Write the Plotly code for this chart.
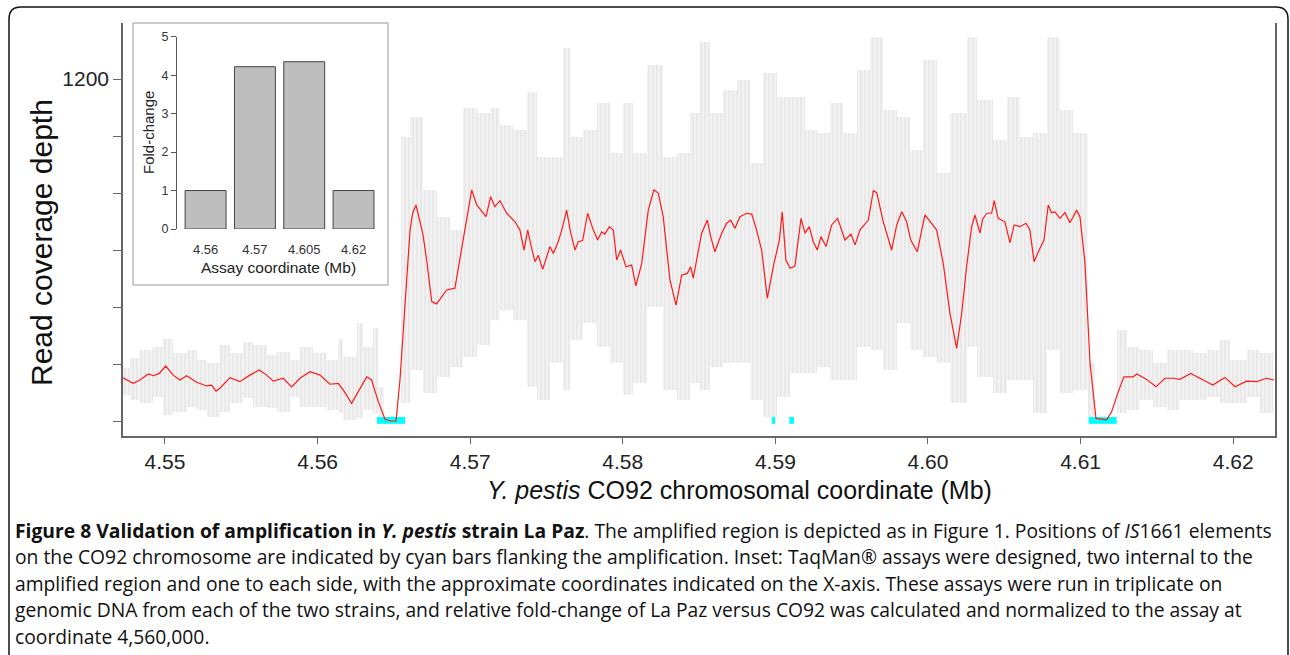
import plotly.graph_objects as go

# smoothed read depth (red line): genome position (Mb) and depth
red_x = [4.54725, 4.54792, 4.54836, 4.54891, 4.54923, 4.54963, 4.55005, 4.55054, 4.55098, 4.55142,
         4.55208, 4.55273, 4.55306, 4.55334, 4.55360, 4.55426, 4.55491, 4.55557, 4.55618, 4.55666,
         4.55710, 4.55775, 4.55830, 4.55885, 4.55950, 4.56016, 4.56081, 4.56136, 4.56168, 4.56223,
         4.56260, 4.56322, 4.56354, 4.56398, 4.56442, 4.56480, 4.56514, 4.56540, 4.56606, 4.56623,
         4.56645, 4.56689, 4.56715, 4.56748, 4.56780, 4.56846, 4.56900, 4.56944, 4.57010, 4.57043,
         4.57104, 4.57134, 4.57162, 4.57195, 4.57239, 4.57294, 4.57326, 4.57353, 4.57377, 4.57403,
         4.57425, 4.57446, 4.57475, 4.57523, 4.57545, 4.57577, 4.57600, 4.57632, 4.57659, 4.57687,
         4.57708, 4.57737, 4.57770, 4.57803, 4.57835, 4.57862, 4.57883, 4.57912, 4.57938, 4.57960,
         4.57986, 4.58021, 4.58058, 4.58086, 4.58124, 4.58167, 4.58204, 4.58233, 4.58265, 4.58309,
         4.58349, 4.58386, 4.58423, 4.58445, 4.58462, 4.58484, 4.58517, 4.58554, 4.58576, 4.58604,
         4.58648, 4.58681, 4.58707, 4.58735, 4.58768, 4.58812, 4.58845, 4.58877, 4.58910, 4.58947,
         4.58991, 4.59026, 4.59045, 4.59069, 4.59096, 4.59128, 4.59168, 4.59194, 4.59222, 4.59248,
         4.59275, 4.59299, 4.59332, 4.59369, 4.59408, 4.59456, 4.59495, 4.59522, 4.59554, 4.59609,
         4.59642, 4.59664, 4.59707, 4.59762, 4.59795, 4.59828, 4.59860, 4.59887, 4.59930, 4.59980,
         4.60013, 4.60057, 4.60100, 4.60144, 4.60188, 4.60221, 4.60253, 4.60286, 4.60308, 4.60341,
         4.60358, 4.60385, 4.60417, 4.60434, 4.60460, 4.60504, 4.60537, 4.60565, 4.60603, 4.60642,
         4.60668, 4.60695, 4.60734, 4.60760, 4.60788, 4.60810, 4.60832, 4.60865, 4.60898, 4.60930,
         4.60952, 4.60974, 4.60996, 4.61029, 4.61062, 4.61101, 4.61171, 4.61204, 4.61247, 4.61284,
         4.61345, 4.61368, 4.61433, 4.61494, 4.61553, 4.61607, 4.61651, 4.61722, 4.61782, 4.61866,
         4.61946, 4.62012, 4.62088, 4.62154, 4.62219, 4.62267]
red_y = [152, 132, 144, 165, 159, 167, 193, 161, 144, 159,
         136, 123, 126, 105, 115, 152, 138, 161, 179, 161,
         140, 150, 120, 150, 173, 161, 129, 132, 109, 62,
         97, 155, 144, 68, 6, 0, 0, 144, 670, 729,
         758, 659, 565, 419, 411, 460, 466, 600, 811, 758,
         717, 787, 752, 773, 729, 699, 670, 600, 670, 606,
         559, 582, 532, 612, 588, 629, 670, 740, 659, 600,
         629, 633, 729, 676, 635, 664, 656, 682, 670, 565,
         600, 541, 547, 474, 553, 740, 811, 799, 717, 495,
         407, 512, 518, 541, 501, 565, 659, 705, 647, 594,
         659, 694, 705, 676, 717, 729, 726, 670, 600, 431,
         553, 635, 734, 565, 536, 544, 711, 659, 682, 629,
         600, 647, 612, 688, 711, 635, 656, 618, 670, 705,
         808, 801, 699, 600, 688, 734, 699, 635, 594, 723,
         699, 670, 553, 378, 255, 378, 541, 682, 723, 659,
         708, 729, 729, 773, 711, 699, 626, 688, 682, 694,
         670, 559, 606, 635, 758, 731, 734, 711, 731, 696,
         717, 740, 717, 553, 202, 9, 4, 33, 103, 155,
         155, 165, 146, 120, 150, 150, 146, 167, 150, 126,
         153, 120, 140, 138, 150, 144]

# raw per-position depth (light grey cloud): column start/end (Mb), min and max depth
gray_start = [4.54725, 4.54771, 4.54836, 4.54921, 4.54987, 4.55052, 4.55144, 4.55210, 4.55275, 4.55360,
              4.55426, 4.55511, 4.55577, 4.55668, 4.55734, 4.55819, 4.55885, 4.55970, 4.56062, 4.56134,
              4.56166, 4.56258, 4.56298, 4.56363, 4.56396,
              4.56547, 4.56606, 4.56691, 4.56782, 4.56868, 4.56953, 4.57045, 4.57130, 4.57195, 4.57280,
              4.57372, 4.57438, 4.57523, 4.57608, 4.57654, 4.57739, 4.57831, 4.57916, 4.58001, 4.58067,
              4.58159, 4.58263, 4.58355, 4.58440, 4.58506, 4.58571, 4.58657, 4.58748, 4.58834, 4.58919,
              4.59010, 4.59096, 4.59194, 4.59273, 4.59358, 4.59443, 4.59535, 4.59620, 4.59705, 4.59797,
              4.59882, 4.59967, 4.60059, 4.60144, 4.60256, 4.60321, 4.60426, 4.60518, 4.60603, 4.60688,
              4.60780, 4.60865, 4.60950, 4.61048,
              4.61239, 4.61304, 4.61389, 4.61474, 4.61566, 4.61651, 4.61736, 4.61828, 4.61913, 4.61978,
              4.62090, 4.62175]
gray_end = [4.54771, 4.54836, 4.54921, 4.54987, 4.55052, 4.55144, 4.55210, 4.55275, 4.55360, 4.55426,
            4.55511, 4.55577, 4.55668, 4.55734, 4.55819, 4.55885, 4.55970, 4.56062, 4.56134, 4.56166,
            4.56258, 4.56298, 4.56363, 4.56396, 4.56435,
            4.56606, 4.56691, 4.56782, 4.56868, 4.56953, 4.57045, 4.57130, 4.57195, 4.57280, 4.57372,
            4.57438, 4.57523, 4.57608, 4.57654, 4.57739, 4.57831, 4.57916, 4.58001, 4.58067, 4.58159,
            4.58263, 4.58355, 4.58440, 4.58506, 4.58571, 4.58657, 4.58748, 4.58834, 4.58919, 4.59010,
            4.59096, 4.59194, 4.59273, 4.59358, 4.59443, 4.59535, 4.59620, 4.59705, 4.59797, 4.59882,
            4.59967, 4.60059, 4.60144, 4.60256, 4.60321, 4.60426, 4.60518, 4.60603, 4.60688, 4.60780,
            4.60865, 4.60950, 4.61048, 4.61094,
            4.61304, 4.61389, 4.61474, 4.61566, 4.61651, 4.61736, 4.61828, 4.61913, 4.61978, 4.62090,
            4.62175, 4.62261]
gray_lo = [91, 74, 63, 84, 21, 32, 49, 39, 14, 32,
           63, 81, 49, 46, 32, 84, 49, 49, 39, 28,
           4, 11, 39, 28, 14,
           63, 179, 98, 154, 189, 225, 267, 354, 389, 354,
           119, 74, 204, 109, 284, 344, 260, 204, 91, 133,
           400, 109, 74, 133, 109, 189, 204, 204, 74, 14,
           84, 168, 168, 189, 144, 144, 260, 249, 179, 344,
           249, 225, 204, 63, 260, 154, 98, 144, 144, 28,
           249, 98, 109, 14,
           28, 39, 74, 49, 39, 74, 74, 84, 63, 63,
           84, 28]
gray_hi = [186, 221, 249, 260, 288, 239, 249, 214, 204, 267,
           239, 277, 267, 232, 242, 214, 260, 239, 214, 288,
           225, 344, 260, 326, 119,
           997, 1067, 811, 716, 670, 1098, 1081, 1098, 1039, 1021,
           1154, 926, 926, 1309, 997, 1021, 1116, 940, 1116, 940,
           1249, 926, 940, 1081, 1330, 1081, 1161, 1197, 905, 1221,
           1137, 1137, 1021, 1011, 1116, 1011, 1232, 1347, 1091, 1067,
           951, 1267, 870, 1081, 1347, 1126, 986, 1137, 997, 1011,
           1347, 1091, 1011, 204,
           319, 260, 249, 204, 249, 249, 239, 249, 284, 214,
           249, 239]

# IS1661 element positions (cyan bars)
is_start = [4.56389, 4.58976, 4.59091, 4.61053]
is_end = [4.56573, 4.58998, 4.59122, 4.61237]

# inset: TaqMan fold-change
assay_labels = ["4.56", "4.57", "4.605", "4.62"]
fold_change = [1.0, 4.22, 4.35, 1.0]

y_tick_vals = [0, 200, 400, 600, 800, 1000, 1200]
y_tick_text = ["", "", "", "", "", "", "1200"]
x_tick_vals = [4.55, 4.56, 4.57, 4.58, 4.59, 4.60, 4.61, 4.62]
x_tick_text = ["4.55", "4.56", "4.57", "4.58", "4.59", "4.60", "4.61", "4.62"]

caption_lines = [
    "<b>Figure 8 Validation of amplification in <i>Y. pestis</i> strain La Paz</b>. The amplified region is "
    "depicted as in Figure 1. Positions of <i>IS</i>1661 elements",
    "on the CO92 chromosome are indicated by cyan bars flanking the amplification. Inset: TaqMan® assays "
    "were designed, two internal to the",
    "amplified region and one to each side, with the approximate coordinates indicated on the X-axis. "
    "These assays were run in triplicate on",
    "genomic DNA from each of the two strains, and relative fold-change of La Paz versus CO92 was "
    "calculated and normalized to the assay at",
    "coordinate 4,560,000.",
]

W, H = 1290, 655
L, R, T, B = 123, 15, 23, 219
PW, PH = W - L - R, H - T - B


def px(x):
    return (x - L) / PW


def py(y):
    return (H - B - y) / PH


ARIAL = "Liberation Sans, Arial, sans-serif"

fig = go.Figure()

# grey raw-depth cloud (streaky fill to mimic the stacked dots)
fig.add_trace(go.Bar(
    x=[(a + b) / 2 for a, b in zip(gray_start, gray_end)],
    width=[b - a for a, b in zip(gray_start, gray_end)],
    base=gray_lo,
    y=[h - l for h, l in zip(gray_hi, gray_lo)],
    marker=dict(color="#f3f3f3", line=dict(width=0),
                pattern=dict(shape="|", fgcolor="#e8e8e8", bgcolor="#f4f4f4",
                             size=4, solidity=0.55, fillmode="replace")),
    showlegend=False, hoverinfo="skip",
))

# cyan IS1661 bars
fig.add_trace(go.Bar(
    x=[(a + b) / 2 for a, b in zip(is_start, is_end)],
    width=[b - a for a, b in zip(is_start, is_end)],
    base=[-10] * len(is_start),
    y=[24] * len(is_start),
    marker=dict(color="#00ffff", line=dict(width=0)),
    showlegend=False, hoverinfo="skip",
))

# smoothed coverage
fig.add_trace(go.Scatter(
    x=red_x, y=red_y, mode="lines",
    line=dict(color="#ff1a1a", width=1.2),
    showlegend=False,
))

# inset bar chart
fig.add_trace(go.Bar(
    x=assay_labels, y=fold_change,
    xaxis="x2", yaxis="y2", width=0.83,
    marker=dict(color="#bebebe", line=dict(color="#444444", width=1)),
    showlegend=False,
))

fig.update_layout(
    width=W, height=H,
    margin=dict(l=L, r=R, t=T, b=B),
    paper_bgcolor="white", plot_bgcolor="white",
    barmode="overlay",
    font=dict(family=ARIAL, color="#222222"),
    xaxis=dict(
        range=[4.54725, 4.62274], tickvals=x_tick_vals, ticktext=x_tick_text,
        showgrid=False, zeroline=False, showline=True, linecolor="#666666", linewidth=1.5,
        ticks="outside", ticklen=6, tickcolor="#666666", tickfont=dict(size=21, color="#222222"),
    ),
    yaxis=dict(
        range=[-52.6, 1396.6], tickvals=y_tick_vals, ticktext=y_tick_text,
        showgrid=False, zeroline=False, showline=True, mirror=True, linecolor="#666666", linewidth=1.5,
        ticks="outside", ticklen=8, tickcolor="#666666", tickfont=dict(size=21, color="#222222"),
    ),
    xaxis2=dict(
        domain=[px(176), px(378.2)], anchor="y2", type="category", range=[-0.6, 3.5],
        showgrid=False, zeroline=False, showline=False, ticks="",
        tickfont=dict(size=13, color="#333333"), ticklabelstandoff=11,
    ),
    yaxis2=dict(
        domain=[py(229), py(36.7)], anchor="free", position=px(176), range=[0, 5],
        tickvals=[0, 1, 2, 3, 4, 5],
        showgrid=False, zeroline=False, showline=True, linecolor="#555555", linewidth=1,
        ticks="outside", ticklen=5, tickcolor="#555555", tickfont=dict(size=12.5, color="#333333"),
    ),
)

shapes = [
    # inset frame
    dict(type="rect", xref="paper", yref="paper", x0=px(133), x1=px(388), y0=py(285), y1=py(23),
         line=dict(color="#999999", width=1), fillcolor="white", layer="below"),
    # outer figure frame with rounded corners
    dict(type="path", xref="paper", yref="paper",
         path=(f"M {px(9)},{py(670)} L {px(9)},{py(19)} Q {px(9)},{py(7)} {px(21)},{py(7)} "
               f"L {px(1276)},{py(7)} Q {px(1288)},{py(7)} {px(1288)},{py(19)} L {px(1288)},{py(670)}"),
         line=dict(color="#111111", width=1.5)),
]
fig.update_layout(shapes=shapes)

annotations = [
    dict(text="Read coverage depth", x=px(41), y=py(243), textangle=-90,
         font=dict(size=30, family=ARIAL, color="#111111")),
    dict(text="<i>Y. pestis</i> CO92 chromosomal coordinate (Mb)", x=px(739), y=py(490),
         font=dict(size=25, family=ARIAL, color="#111111")),
    dict(text="Fold-change", x=px(148), y=py(133), textangle=-90,
         font=dict(size=15, family=ARIAL, color="#222222")),
    dict(text="Assay coordinate (Mb)", x=px(278), y=py(267),
         font=dict(size=15.5, family=ARIAL, color="#222222")),
]
for a in annotations:
    a.update(xref="paper", yref="paper", showarrow=False, xanchor="center", yanchor="middle")

for i, line in enumerate(caption_lines):
    annotations.append(dict(
        text=line, xref="paper", yref="paper", x=px(13), y=py(530 + i * 26.6),
        xanchor="left", yanchor="middle", showarrow=False,
        font=dict(size=19.3, family="Open Sans, sans-serif", color="#111111"),
    ))
fig.update_layout(annotations=annotations)

fig.write_html("out.html", config={"displayModeBar": False},
               post_script="document.body.style.margin='0';")
